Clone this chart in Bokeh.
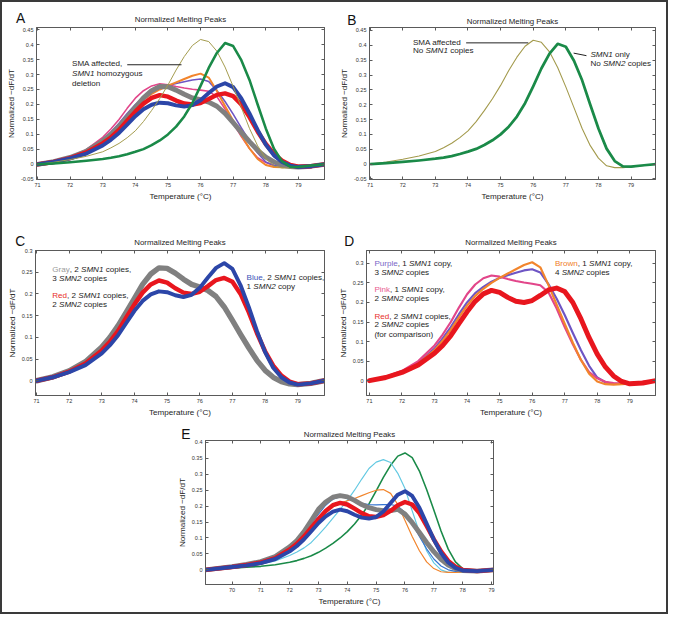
from bokeh.plotting import figure
from bokeh.models import Label, FixedTicker, Range1d, LinearAxis
from bokeh.layouts import column, row
from bokeh.embed import file_html
from bokeh.resources import INLINE

S = 0.985
FONT = "Liberation Sans"
INK = "#1e1e1e"
FRAME = "#5a5a5a"

# ---------------- data (panels A-D share one run) ----------------
TEMP = [71, 71.5, 72, 72.5, 73, 73.25, 73.5, 73.75, 74, 74.25, 74.5, 74.75, 75, 75.25,
        75.5, 75.75, 76, 76.25, 76.5, 76.75, 77, 77.25, 77.5, 77.75, 78, 78.25, 78.5,
        78.75, 79, 79.4, 79.8]
gray = [0, 0.009, 0.023, 0.044, 0.078, 0.1, 0.127, 0.158, 0.19, 0.222, 0.246, 0.26, 0.259,
        0.248, 0.234, 0.222, 0.216, 0.208, 0.194, 0.17, 0.139, 0.107, 0.076, 0.047, 0.024,
        0.008, -0.002, -0.007, -0.009, -0.006, 0]
red = [0, 0.008, 0.021, 0.04, 0.07, 0.09, 0.115, 0.146, 0.176, 0.203, 0.222, 0.231, 0.226,
       0.213, 0.203, 0.2, 0.205, 0.218, 0.232, 0.237, 0.228, 0.2, 0.158, 0.11, 0.068, 0.035,
       0.012, -0.002, -0.008, -0.006, 0]
blue = [0, 0.008, 0.02, 0.036, 0.063, 0.082, 0.105, 0.133, 0.161, 0.184, 0.199, 0.206, 0.204,
        0.197, 0.193, 0.198, 0.214, 0.238, 0.26, 0.271, 0.258, 0.22, 0.17, 0.115, 0.066, 0.03,
        0.008, -0.004, -0.009, -0.006, 0]
purple = [0, 0.009, 0.023, 0.045, 0.082, 0.108, 0.137, 0.17, 0.2, 0.224, 0.24, 0.253, 0.263,
          0.27, 0.276, 0.282, 0.285, 0.277, 0.247, 0.21, 0.168, 0.122, 0.078, 0.038, 0.008,
          -0.004, -0.008, -0.008, -0.007, -0.004, 0]
orange = [0, 0.009, 0.022, 0.043, 0.078, 0.102, 0.13, 0.162, 0.192, 0.217, 0.235, 0.25, 0.263,
          0.274, 0.285, 0.296, 0.303, 0.29, 0.245, 0.195, 0.146, 0.097, 0.053, 0.018, -0.002,
          -0.009, -0.01, -0.009, -0.008, -0.004, 0]
pink = [0, 0.01, 0.025, 0.05, 0.09, 0.118, 0.15, 0.187, 0.221, 0.246, 0.262, 0.269, 0.266,
        0.26, 0.255, 0.251, 0.248, 0.244, 0.226, 0.185, 0.137, 0.093, 0.053, 0.022, 0.006,
        -0.003, -0.006, -0.007, -0.006, -0.003, 0]
olive = [0, 0.007, 0.016, 0.027, 0.042, 0.055, 0.07, 0.089, 0.112, 0.143, 0.18, 0.22, 0.265,
         0.315, 0.36, 0.397, 0.417, 0.41, 0.378, 0.325, 0.26, 0.19, 0.12, 0.062, 0.02, -0.006,
         -0.012, -0.012, -0.01, -0.005, 0]
green = [0, 0.003, 0.007, 0.012, 0.018, 0.022, 0.027, 0.034, 0.042, 0.051, 0.064, 0.08, 0.1,
         0.126, 0.16, 0.205, 0.262, 0.322, 0.372, 0.405, 0.395, 0.348, 0.282, 0.2, 0.12, 0.052,
         0.01, -0.008, -0.009, -0.004, 0]

# ---------------- data (panel E, separate run) ----------------
TEMP_E = [69.08, 70, 70.5, 71, 71.5, 72, 72.25, 72.5, 72.75, 73, 73.25, 73.5, 73.75, 74, 74.25,
          74.5, 74.75, 75, 75.25, 75.5, 75.75, 76, 76.25, 76.5, 76.75, 77, 77.25, 77.5, 77.75,
          78, 78.5, 79.07]
gray_e = [0, 0.01, 0.017, 0.026, 0.042, 0.072, 0.092, 0.12, 0.155, 0.19, 0.213, 0.228, 0.233,
          0.229, 0.218, 0.205, 0.195, 0.189, 0.186, 0.186, 0.19, 0.175, 0.148, 0.117, 0.086,
          0.057, 0.033, 0.015, 0.004, -0.002, -0.004, 0]
red_e = [0, 0.009, 0.015, 0.023, 0.037, 0.064, 0.082, 0.105, 0.132, 0.16, 0.185, 0.203, 0.21,
         0.205, 0.192, 0.178, 0.168, 0.166, 0.172, 0.185, 0.203, 0.213, 0.205, 0.178, 0.138,
         0.096, 0.058, 0.028, 0.01, 0.0, -0.004, 0]
blue_e = [0, 0.009, 0.014, 0.021, 0.034, 0.058, 0.075, 0.096, 0.121, 0.147, 0.168, 0.183, 0.189,
          0.184, 0.173, 0.164, 0.161, 0.166, 0.183, 0.21, 0.236, 0.247, 0.232, 0.195, 0.145,
          0.095, 0.053, 0.023, 0.006, -0.002, -0.004, 0]
cyan_e = [0, 0.008, 0.012, 0.018, 0.028, 0.045, 0.056, 0.069, 0.086, 0.11, 0.135, 0.162, 0.19,
          0.218, 0.25, 0.285, 0.318, 0.338, 0.346, 0.337, 0.303, 0.255, 0.185, 0.118, 0.06,
          0.022, 0.0, -0.008, -0.008, -0.007, -0.004, 0]
green_e = [0, 0.005, 0.008, 0.011, 0.016, 0.024, 0.029, 0.036, 0.044, 0.055, 0.068, 0.083, 0.1,
           0.12, 0.144, 0.172, 0.207, 0.248, 0.29, 0.328, 0.357, 0.367, 0.352, 0.31, 0.252,
           0.188, 0.122, 0.065, 0.025, 0.004, -0.005, 0]
orange_e = [0, 0.01, 0.016, 0.024, 0.038, 0.065, 0.083, 0.105, 0.13, 0.155, 0.18, 0.2, 0.21,
            0.217, 0.224, 0.233, 0.242, 0.25, 0.252, 0.24, 0.205, 0.155, 0.105, 0.06, 0.025,
            0.004, -0.006, -0.008, -0.008, -0.007, -0.004, 0]
lblue_e = [0, 0.01, 0.016, 0.025, 0.04, 0.07, 0.09, 0.115, 0.145, 0.175, 0.203, 0.222, 0.23,
           0.228, 0.218, 0.209, 0.205, 0.204, 0.205, 0.205, 0.2, 0.18, 0.145, 0.105, 0.066,
           0.034, 0.012, 0.0, -0.005, -0.005, -0.003, 0]

# ---------------- ticks ----------------
XTICKS = [71, 72, 73, 74, 75, 76, 77, 78, 79]
XTICKS_E = [70, 71, 72, 73, 74, 75, 76, 77, 78, 79]
YTICKS_AB = [-0.05, 0, 0.05, 0.1, 0.15, 0.2, 0.25, 0.3, 0.35, 0.4, 0.45]
YLABELS_AB = ["-0.05", "0", "0.05", "0.1", "0.15", "0.2", "0.25", "0.3", "0.35", "0.4", "0.45"]
YTICKS_CD = [0, 0.05, 0.1, 0.15, 0.2, 0.25, 0.3]
YLABELS_CD = ["0", "0.05", "0.1", "0.15", "0.2", "0.25", "0.3"]
YTICKS_E = [0, 0.05, 0.1, 0.15, 0.2, 0.25, 0.3, 0.35, 0.4]
YLABELS_E = ["0", "0.05", "0.1", "0.15", "0.2", "0.25", "0.3", "0.35", "0.4"]

C_GRAY, C_RED, C_BLUE = "#808080", "#e8161e", "#2c46a8"
C_PURPLE, C_ORANGE, C_PINK = "#6e55c4", "#f2852c", "#e2468a"
C_OLIVE, C_GREEN, C_CYAN, C_LBLUE = "#a39a4c", "#1a8a48", "#63c9e2", "#3574d2"

W_ARIAL = {' ': 278, ',': 278, '.': 278, '(': 333, ')': 333, 'A': 667, 'B': 667, 'C': 722,
           'D': 722, 'E': 667, 'F': 611, 'G': 778, 'H': 722, 'I': 278, 'M': 833, 'N': 722,
           'O': 778, 'P': 667, 'R': 722, 'S': 667, 'T': 611, 'a': 556, 'b': 556, 'c': 500,
           'd': 556, 'e': 556, 'f': 278, 'g': 556, 'h': 556, 'i': 222, 'k': 500, 'l': 222,
           'm': 833, 'n': 556, 'o': 556, 'p': 556, 'r': 333, 's': 500, 't': 278, 'u': 556,
           'w': 722, 'y': 500, 'z': 500}


def tw(s):
    return sum(W_ARIAL.get(c, 556) for c in s) / 1000.0


def P(v):
    return round((v - 5) * S)


def make_panel(box, frame, xr, yr, xticks, yticks, ylabels):
    x0, y0, x1, y1 = box
    l, t, r, b = frame
    p = figure(width=P(x1) - P(x0), height=P(y1) - P(y0),
               x_range=Range1d(*xr), y_range=Range1d(*yr),
               output_backend="svg", toolbar_location=None,
               min_border_left=P(l) - P(x0), min_border_right=P(x1) - P(r),
               min_border_top=P(t) - P(y0), min_border_bottom=P(y1) - P(b),
               background_fill_color="white", border_fill_color="white",
               outline_line_color=FRAME, outline_line_width=1)
    p.grid.visible = False
    xb = p.below[0]
    yl = p.left[0]
    xt = LinearAxis()
    yrx = LinearAxis()
    p.add_layout(xt, "above")
    p.add_layout(yrx, "right")
    xlabels = [str(v) for v in xticks]
    for ax, ticks, labels, shown in ((xb, xticks, xlabels, True), (xt, xticks, xlabels, False),
                                     (yl, yticks, ylabels, True), (yrx, yticks, ylabels, False)):
        ax.ticker = FixedTicker(ticks=ticks)
        ax.major_tick_in = 3
        ax.major_tick_out = 0
        ax.minor_tick_line_color = None
        ax.axis_line_color = FRAME
        ax.major_tick_line_color = FRAME
        ax.major_label_text_font = FONT
        ax.major_label_text_color = "#333333"
        if shown:
            ax.major_label_text_font_size = f"{5.6 * S:.2f}px"
            ax.major_label_standoff = 3
            ax.major_label_overrides = {tk: lb for tk, lb in zip(ticks, labels)}
        else:
            ax.major_label_text_font_size = "0px"
            ax.major_label_standoff = 0
            ax.major_label_overrides = {tk: "" for tk in ticks}
    xb.axis_label = "Temperature (°C)"
    yl.axis_label = "Normalized −dF/dT"
    for ax in (xb, yl):
        ax.axis_label_text_font = FONT
        ax.axis_label_text_font_size = f"{8.2 * S:.2f}px"
        ax.axis_label_text_font_style = "normal"
        ax.axis_label_text_color = INK
        ax.axis_label_standoff = 2
    g = dict(l=l, t=t, r=r, b=b, xr=xr, yr=yr)
    return p, g


def to_data(g, px, py):
    xd = g['xr'][0] + (px - g['l']) / (g['r'] - g['l']) * (g['xr'][1] - g['xr'][0])
    yd = g['yr'][1] - (py - g['t']) / (g['b'] - g['t']) * (g['yr'][1] - g['yr'][0])
    return xd, yd


def put_text(p, g, px, py, segs, size=8.2, align="left", place="center"):
    xd, yd = to_data(g, px, py)
    fs = size * S
    off = 0.0
    for txt, style, color in segs:
        lead = len(txt) - len(txt.lstrip(" "))
        off += tw(txt[:lead]) * fs
        core = txt.strip(" ")
        p.add_layout(Label(x=xd, y=yd, x_offset=off, text=core, text_font=FONT,
                           text_font_size=f"{fs:.2f}px", text_font_style=style,
                           text_color=color, text_baseline="middle", text_align=align), place)
        off += tw(txt[lead:]) * fs


def header(p, g, letter, lx, ly, ty, letter_place="right", title_place="above"):
    put_text(p, g, lx, ly, [(letter, "normal", "#111111")], size=14, align="center",
             place=letter_place)
    put_text(p, g, (g['l'] + g['r']) / 2, ty, [("Normalized Melting Peaks", "normal", INK)],
             size=8, align="center", place=title_place)


def leader(p, g, ax, ay, bx, by):
    x1, y1 = to_data(g, ax, ay)
    x2, y2 = to_data(g, bx, by)
    p.segment(x0=[x1], y0=[y1], x1=[x2], y1=[y2], line_color="#222222", line_width=1)


def n(t):
    return (t, "normal", INK)


def it(t):
    return (t, "italic", INK)


# ---------------- Panel A ----------------
pA, gA = make_panel((5, 5, 342, 232), (40, 30, 332, 185), (70.97, 79.8), (-0.0505, 0.457),
                    XTICKS, YTICKS_AB, YLABELS_AB)
for ys, c, w in ((pink, C_PINK, 1.6), (purple, C_PURPLE, 1.6), (orange, C_ORANGE, 2.0),
                 (gray, C_GRAY, 5), (red, C_RED, 4.5), (blue, C_BLUE, 4),
                 (olive, C_OLIVE, 1.0), (green, C_GREEN, 2.6)):
    pA.line(TEMP, ys, line_color=c, line_width=w * S, line_join="round", line_cap="round")
header(pA, gA, "A", 24, 20.5, 21.5)
put_text(pA, gA, 76, 67, [n("SMA affected,")])
put_text(pA, gA, 76, 77, [it("SMN1"), n(" homozygous")])
put_text(pA, gA, 76, 87, [n("deletion")])
leader(pA, gA, 132, 68, 187, 68)

# ---------------- Panel B ----------------
pB, gB = make_panel((342, 5, 679, 232), (378, 29, 668, 207), (70.98, 79.75), (-0.052, 0.46),
                    XTICKS, YTICKS_AB, YLABELS_AB)
pB.line(TEMP, olive, line_color=C_OLIVE, line_width=1.1 * S)
pB.line(TEMP, green, line_color=C_GREEN, line_width=2.8 * S, line_join="round")
header(pB, gB, "B", 360, 20.5, 22)
put_text(pB, gB, 422, 47, [n("SMA affected")])
put_text(pB, gB, 422, 56, [n("No "), it("SMN1"), n(" copies")])
put_text(pB, gB, 602, 61, [it("SMN1"), n(" only")])
put_text(pB, gB, 602, 71, [n("No "), it("SMN2"), n(" copies")])
leader(pB, gB, 476, 47, 539, 47)
leader(pB, gB, 585, 59, 598, 62)

# ---------------- Panel C ----------------
pC, gC = make_panel((5, 232, 342, 430), (39, 257, 332, 404), (70.97, 79.82), (-0.034, 0.3001),
                    XTICKS, YTICKS_CD, YLABELS_CD)
for ys, c, w in ((gray, C_GRAY, 5.5), (red, C_RED, 4.5), (blue, C_BLUE, 4)):
    pC.line(TEMP, ys, line_color=c, line_width=w * S, line_join="round", line_cap="round")
header(pC, gC, "C", 23.5, 248, 249)
put_text(pC, gC, 56, 276, [("Gray", "normal", "#9a9a9a"), n(", 2 "), it("SMN1"), n(" copies,")])
put_text(pC, gC, 56, 285.5, [n("3 "), it("SMN2"), n(" copies")])
put_text(pC, gC, 56, 302.5, [("Red", "normal", "#e8302a"), n(", 2 "), it("SMN1"), n(" copies,")])
put_text(pC, gC, 56, 312, [n("2 "), it("SMN2"), n(" copies")])
put_text(pC, gC, 253, 284, [("Blue", "normal", "#3a52b8"), n(", 2 "), it("SMN1"), n(" copies,")])
put_text(pC, gC, 253, 293.5, [n("1 "), it("SMN2"), n(" copy")])

# ---------------- Panel D ----------------
pD, gD = make_panel((342, 232, 679, 430), (375, 257, 668, 404), (70.91, 79.79), (-0.038, 0.333),
                    XTICKS, YTICKS_CD, YLABELS_CD)
for ys, c, w in ((purple, C_PURPLE, 2.2), (pink, C_PINK, 2.2), (orange, C_ORANGE, 2.2),
                 (red, C_RED, 5)):
    pD.line(TEMP, ys, line_color=c, line_width=w * S, line_join="round", line_cap="round")
header(pD, gD, "D", 357.5, 248, 248.5)
put_text(pD, gD, 383, 270, [("Purple", "normal", "#7a68c8"), n(", 1 "), it("SMN1"), n(" copy,")])
put_text(pD, gD, 383, 279.5, [n("3 "), it("SMN2"), n(" copies")])
put_text(pD, gD, 383, 297, [("Pink", "normal", "#e85a90"), n(", 1 "), it("SMN1"), n(" copy,")])
put_text(pD, gD, 383, 306, [n("2 "), it("SMN2"), n(" copies")])
put_text(pD, gD, 383, 323.5, [("Red", "normal", "#e8302a"), n(", 2 "), it("SMN1"), n(" copies,")])
put_text(pD, gD, 383, 332.5, [n("2 "), it("SMN2"), n(" copies")])
put_text(pD, gD, 383, 342.5, [n("(for comparison)")])
put_text(pD, gD, 566, 270, [("Brown", "normal", "#f0802a"), n(", 1 "), it("SMN1"), n(" copy,")])
put_text(pD, gD, 566, 279.5, [n("4 "), it("SMN2"), n(" copies")])

# ---------------- Panel E ----------------
pE, gE = make_panel((5, 430, 679, 624), (211, 450, 503, 596), (69.08, 79.07), (-0.046, 0.406),
                    XTICKS_E, YTICKS_E, YLABELS_E)
for ys, c, w in ((green_e, C_GREEN, 1.6), (cyan_e, C_CYAN, 1.2), (orange_e, C_ORANGE, 1.2),
                 (lblue_e, C_LBLUE, 1.2), (gray_e, C_GRAY, 5), (red_e, C_RED, 4.5),
                 (blue_e, C_BLUE, 4)):
    pE.line(TEMP_E, ys, line_color=c, line_width=w * S, line_join="round", line_cap="round")
header(pE, gE, "E", 191, 444, 443.5, letter_place="left", title_place="right")

root = column(row(pA, pB), row(pC, pD), pE,
              styles={"border": "2px solid #3a3a3a"})

open("out.html", "w").write(file_html(root, INLINE))
